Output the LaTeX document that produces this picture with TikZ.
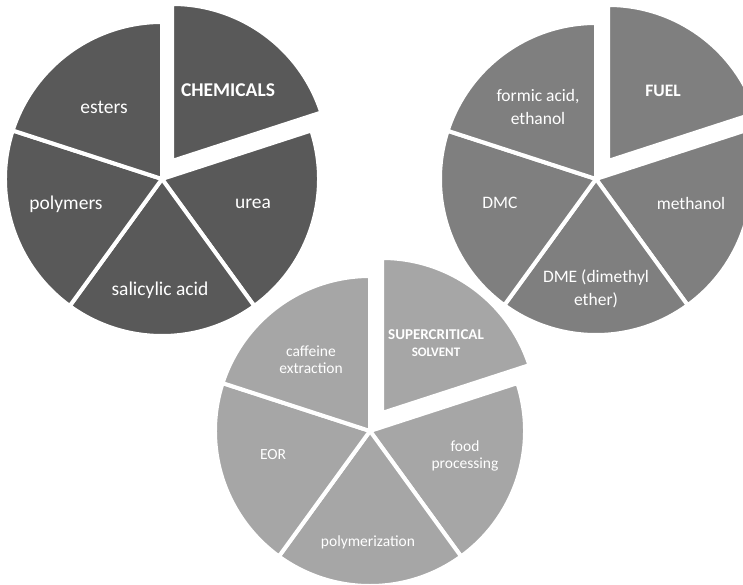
\documentclass[tikz,border=0pt]{standalone}
\usepackage{fontspec}
\setmainfont{Carlito}
\usetikzlibrary{positioning}
\definecolor{chemgray}{RGB}{89,89,89}
\definecolor{fuelgray}{RGB}{127,127,127}
\definecolor{solvgray}{RGB}{166,166,166}

\begin{document}
\begin{tikzpicture}[
    x=1pt, y=1pt,
    slice/.style={draw=white, line width=4pt, line join=round},
    chemtext/.style={text=white, align=center, font=\fontsize{19.5}{23.8}\selectfont},
    fueltext/.style={text=white, align=center, font=\fontsize{17.5}{22.5}\selectfont},
    solvtext/.style={text=white, align=center, font=\fontsize{15.5}{17}\selectfont}
]
    \useasboundingbox (0,0) rectangle (743,584);
    \clip (0,0) rectangle (743,584);

    % Centers
    \coordinate (chemc) at (162,405);
    \coordinate (fuelc) at (596,405);
    \coordinate (solvc) at (370,153);
    % Centers of the pulled-out slices
    \coordinate (chemx) at ([shift={(10,18)}]chemc);
    \coordinate (fuelx) at ([shift={(12,18)}]fuelc);
    \coordinate (solvx) at ([shift={(12,18)}]solvc);

    % Chemicals pie
    \foreach \a/\b in {18/-54, -54/-126, -126/-198, 162/90}
        \filldraw[slice, fill=chemgray] (chemc) -- ++(\a:157) arc[start angle=\a, end angle=\b, radius=157] -- cycle;
    \filldraw[slice, fill=chemgray] (chemx) -- ++(90:157) arc[start angle=90, end angle=18, radius=157] -- cycle;

    % Fuel pie
    \foreach \a/\b in {18/-54, -54/-126, -126/-198, 162/90}
        \filldraw[slice, fill=fuelgray] (fuelc) -- ++(\a:156) arc[start angle=\a, end angle=\b, radius=156] -- cycle;
    \filldraw[slice, fill=fuelgray] (fuelx) -- ++(90:156) arc[start angle=90, end angle=18, radius=156] -- cycle;

    % Supercritical solvent pie
    \foreach \a/\b in {18/-54, -54/-126, -126/-198, 162/90}
        \filldraw[slice, fill=solvgray] (solvc) -- ++(\a:155) arc[start angle=\a, end angle=\b, radius=155] -- cycle;
    \filldraw[slice, fill=solvgray] (solvx) -- ++(90:155) arc[start angle=90, end angle=18, radius=155] -- cycle;

    % Chemicals labels
    \node[chemtext, font=\fontsize{19.5}{23.8}\selectfont\bfseries] (chemicals) at (228,494) {CHEMICALS};
    \node[chemtext] (esters)    at (104,477) {esters};
    \node[chemtext] (polymers)  at (66,380)  {polymers};
    \node[chemtext] (urea)      at (253,380) {urea};
    \node[chemtext] (salicylic) at (160,294) {salicylic acid};

    % Fuel labels
    \node[fueltext, font=\fontsize{17.5}{21.4}\selectfont\bfseries] (fuel) at (663,493) {FUEL};
    \node[fueltext] (formic)   at (538,477) {formic acid,\\ethanol};
    \node[fueltext] (dmc)      at (500,381) {DMC};
    \node[fueltext] (methanol) at (691,381) {methanol};
    \node[fueltext] (dme)      at (596,295) {DME (dimethyl\\ether)};

    % Solvent labels
    \node[solvtext, font=\fontsize{15}{17}\selectfont\bfseries] (solvent) at (436,241)
        {SUPERCRITICAL\\{\fontsize{13}{15}\selectfont SOLVENT}};
    \node[solvtext] (caffeine) at (311,224) {caffeine\\extraction};
    \node[solvtext] (eor)      at (273,129) {EOR};
    \node[solvtext] (food)     at (465,128) {food\\processing};
    \node[solvtext] (polymerization) at (368,42) {polymerization};

\end{tikzpicture}
\end{document}
